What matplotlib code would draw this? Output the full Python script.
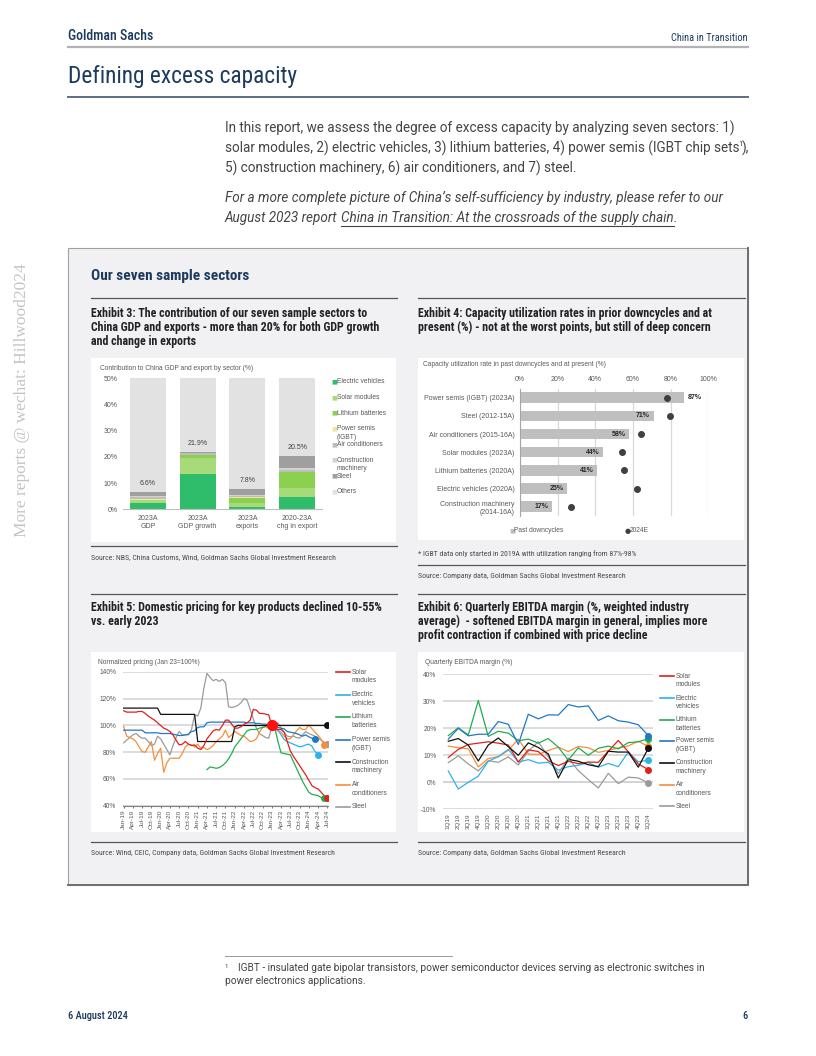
"""Rebuild of the GS 'Defining excess capacity' page: text blocks plus four exhibits."""
import matplotlib
matplotlib.use("Agg")
import matplotlib.pyplot as plt
from matplotlib import font_manager as fm
from matplotlib.lines import Line2D
from matplotlib.patches import Rectangle

W, H = 816, 1056

# ---------------- data ----------------
# Exhibit 3: contribution (%) by sector, stacked
EX3_CATS = ["2023A\nGDP", "2023A\nGDP growth", "2023A\nexports", "2020-23A\nchg in export"]
EX3_SECTORS = ["Electric vehicles", "Solar modules", "Lithium batteries", "Power semis\n(IGBT)",
               "Air conditioners", "Construction\nmachinery", "Steel", "Others"]
ex3_ev = [2.5, 13.6, 1.0, 4.8]
ex3_solar = [0.9, 6.1, 1.5, 3.4]
ex3_lithium = [0.3, 1.1, 2.0, 5.9]
ex3_semis = [0.1, 0.1, 0.1, 0.2]
ex3_ac = [0.8, 0.4, 0.5, 0.7]
ex3_cm = [0.4, 0.2, 0.5, 0.7]
ex3_steel = [1.6, 0.4, 2.2, 4.8]
ex3_others = [93.4, 78.1, 92.2, 79.5]
ex3_total_labels = ["6.6%", "21.9%", "7.8%", "20.5%"]

# Exhibit 4: capacity utilisation
EX4_CATS = ["Power semis (IGBT) (2023A)", "Steel (2012-15A)", "Air conditioners (2015-16A)",
            "Solar modules (2023A)", "Lithium batteries (2020A)", "Electric vehicles (2020A)",
            "Construction machinery\n(2014-16A)"]
ex4_past = [87, 71, 58, 44, 41, 25, 17]
ex4_2024e = [78, 79.5, 64, 54, 55, 62, 27]

# Exhibit 5: normalized pricing, monthly Jan-19 .. Jul-24 (index 0 = Jan-19)
EX5_TICKS = ["Jan-19", "Apr-19", "Jul-19", "Oct-19", "Jan-20", "Apr-20", "Jul-20", "Oct-20",
             "Jan-21", "Apr-21", "Jul-21", "Oct-21", "Jan-22", "Apr-22", "Jul-22", "Oct-22",
             "Jan-23", "Apr-23", "Jul-23", "Oct-23", "Jan-24", "Apr-24", "Jul-24"]
px_solar = [111, 110, 110, 110, 110, 110.5, 110.5, 109, 107, 105.5,
            104, 102, 100, 98, 97, 95.5, 93, 89, 85.5, 86,
            88, 86, 85, 85.5, 83, 82, 85, 90, 93, 96,
            97, 96.5, 100, 104, 104, 101, 98, 98, 99, 101,
            102, 104, 112, 111.5, 109, 109, 108.5, 108, 100, 98,
            97, 97, 95, 88, 81, 77, 73.5, 70, 66.5, 63,
            59, 55, 53.5, 52.5, 50, 47.5, 46]
px_ev_start = 48
px_ev = [100, 98, 96.5, 93, 89.5, 88, 87, 86, 85, 84, 84.5, 85.5, 86, 84.5, 80.5, 78]
px_lith_start = 27
px_lith = [67, 69, 68.5, 68, 68.5, 70, 72, 75, 79, 84,
           87, 90, 93, 96, 97, 97, 97, 98, 98.5, 99.5,
           100, 100, 98, 88, 79.5, 79, 78.5, 78, 73, 68,
           63, 58, 54, 50, 48.5, 48, 47.5, 46, 45.5]
px_semis = [96.5, 96.5, 96.5, 96.5, 96.5, 96.5, 96.5, 94.5, 94.5, 94.5,
            94.5, 94.5, 94, 94, 94, 94, 93.5, 93, 92.5, 92.5,
            93, 93.5, 95.5, 96, 98.5, 99, 99, 102, 102.5, 102.5,
            102.5, 102.5, 102.5, 102.5, 102.5, 102.5, 102.5, 102.5, 102.5, 102.5,
            102, 102, 102, 101.5, 101.5, 101, 101, 100.5, 100, 99,
            98.5, 98, 97.5, 95.5, 95, 94.5, 94, 93, 92, 93,
            91.5, 90.5, 90]
px_cm = [113, 113, 113, 113, 113, 113, 113, 113, 113, 113, 113, 113,
         108.3, 108.3, 108.3, 108.3, 108.3, 108.3, 108.3, 108.3, 108.3, 108.3, 108.3, 108.3,
         88, 88, 88, 88, 88, 88, 88, 88, 88, 88, 88, 88,
         99, 100, 100, 100, 100, 100, 100, 100, 100, 100,
         100, 100, 100, 100, 100, 100, 100, 100, 100, 100,
         100, 100, 100, 100, 100, 100, 100, 100, 100, 100, 100]
px_ac = [99.5, 92, 91, 90, 88, 84, 80.5, 80, 84, 88,
         74, 79, 83, 65, 72, 75.5, 75.5, 75.5, 75.5, 79,
         84, 86, 85.5, 84, 86, 83, 83.5, 82, 83, 85,
         88, 90, 92, 96.5, 91, 93, 95.5, 94, 92.5, 92,
         90, 88, 88.5, 90, 95, 98.5, 99, 98, 98, 97,
         96, 95, 92, 90, 90, 93, 96, 98.5, 97, 97,
         100.5, 97.5, 95, 92.5, 89.5, 85.5]
px_steel = [87, 89, 91, 93, 94, 92, 90.5, 90.5, 88, 85,
            86, 92, 90, 86, 82, 78, 85, 91, 95.5, 93,
            93, 93, 97, 108, 107, 113, 128, 139, 136, 133.5,
            134.5, 133, 134.5, 132, 114, 113.5, 114, 115, 117, 120,
            119, 112, 105, 98, 94, 92.5, 91, 90.5, 99, 100,
            102, 98, 95, 92, 91.5, 92, 91, 90.5, 93, 95.5,
            94, 93, 92, 90.5, 89, 87.5, 86]

# Exhibit 6: quarterly EBITDA margin (%), 1Q19 .. 1Q24
EX6_QTRS = ["1Q19", "2Q19", "3Q19", "4Q19", "1Q20", "2Q20", "3Q20", "4Q20", "1Q21", "2Q21", "3Q21",
            "4Q21", "1Q22", "2Q22", "3Q22", "4Q22", "1Q23", "2Q23", "3Q23", "4Q23", "1Q24"]
eb_solar = [9.2, 12.2, 14, 14.5, 15, 14.5, 13.8, 7.5, 12, 11.4, 8, 6.2, 7.8, 6.9, 7.5, 7.4, 11.5, 15.5, 11.3, 6.8, 4.7]
eb_ev = [4.2, -2.5, 0, 2.3, 7.8, 9.5, 12.2, 7.5, 8.4, 7.1, 7.4, 4.5, 5.8, 6.3, 7.3, 5.6, 7, 5.8, 11.2, 7.6, 8.2]
eb_lith = [17.3, 20.2, 17.5, 30.3, 17, 18.9, 18.2, 15.4, 16, 14.5, 16.2, 13, 8.2, 12.8, 10, 12.6, 13.4, 12.4, 14.7, 15, 16.2]
eb_semis = [16, 20, 17.2, 17.8, 17.8, 22.5, 21.5, 14, 25.2, 23.5, 25, 24.9, 28.8, 27.9, 28.3, 22.9, 24.6, 22.8, 22.3, 21.3, 17.3]
eb_cm = [15.2, 16.2, 13.8, 7.9, 13.8, 16.4, 13.2, 10, 14.6, 12.9, 10.5, 1.6, 8.5, 7.8, 6.5, 5.8, 11.5, 11.2, 11.2, 5.6, 12.6]
eb_ac = [13.4, 12.8, 12.4, 5.7, 8.8, 9.5, 11.8, 16, 10.5, 10.3, 11.8, 13, 11.4, 13.3, 12.8, 11.1, 11.8, 12.7, 13.5, 15.2, 13.3]
eb_steel = [7.3, 9.8, 6.8, 4.2, 8, 7.4, 9.4, 6.4, 11.5, 15, 9.5, 3.2, 9, 4.3, 1, -2.1, 3.3, -0.5, 1.9, 1.6, -0.2]

# ---------------- styling ----------------
NAVY = "#1c3b5e"
TICK = "#595959"
GRID = "#d9d9d9"
C_SOLAR, C_EV, C_LITH, C_SEMIS = "#e0201b", "#2cb2ec", "#1fae4f", "#1f78c8"
C_CM, C_AC, C_STEEL = "#111111", "#f68e3c", "#9b9b9b"

_names = {f.name for f in fm.fontManager.ttflist}


def _pick(cands, default):
    for c in cands:
        if c in _names:
            return c
    return default


COND = _pick(["Roboto Condensed", "Liberation Sans Narrow", "Open Sans Condensed"], "DejaVu Sans")
BODY = _pick(["Roboto", "Liberation Sans"], "DejaVu Sans")
CHART = _pick(["Liberation Sans", "Arimo"], "DejaVu Sans")
CSTRETCH = "condensed" if COND == "DejaVu Sans" else "normal"

fig = plt.figure(figsize=(W / 100, H / 100), dpi=100, facecolor="white")
rend = fig.canvas.get_renderer()


def fx(x):
    return x / W


def fy(y):
    return 1 - y / H


def txt(x, y, s, **kw):
    kw.setdefault("va", "center")
    return fig.text(fx(x), fy(y), s, **kw)


def ctxt(x, y, s, size, **kw):
    return txt(x, y, s, fontsize=size, family=COND, fontstretch=CSTRETCH, **kw)


def right_of(t):
    return t.get_window_extent(rend).x1


def hline(x0, x1, y, color="#555555", lw=0.9):
    fig.add_artist(Line2D([fx(x0), fx(x1)], [fy(y), fy(y)], transform=fig.transFigure,
                          color=color, lw=lw))


def rect(x0, y0, x1, y1, z=-4, **kw):
    fig.add_artist(Rectangle((fx(x0), fy(y1)), (x1 - x0) / W, (y1 - y0) / H,
                             transform=fig.transFigure, zorder=z, **kw))


def axes_px(x0, y0, x1, y1):
    ax = fig.add_axes((fx(x0), fy(y1), (x1 - x0) / W, (y1 - y0) / H))
    ax.set_facecolor("none")
    return ax


def line_legend(x_line, x_text, ys, labels, colors):
    for y, lab, col in zip(ys, labels, colors):
        fig.add_artist(Line2D([fx(x_line), fx(x_line + 14)], [fy(y), fy(y)],
                              transform=fig.transFigure, color=col, lw=1.2))
        txt(x_text, y - 3.5, lab, va="top", fontsize=4.8, color=TICK, family=CHART,
            linespacing=1.35)


# ---------------- page header / body ----------------
ctxt(68, 36, "Goldman Sachs", 10, color=NAVY, fontweight="medium")
ctxt(748, 38, "China in Transition", 7.5, color=NAVY, ha="right")
hline(68, 748, 47, color="#b3b3b3", lw=1.6)
ctxt(68, 76, "Defining excess capacity", 16.8, color=NAVY)
hline(68, 748, 97, color="#5b6f86", lw=1.4)

body_kw = dict(fontsize=9.75, color="#444444", family=BODY)
txt(225, 128, "In this report, we assess the degree of excess capacity by analyzing seven sectors: 1)", **body_kw)
t_l2 = txt(225, 148, "solar modules, 2) electric vehicles, 3) lithium batteries, 4) power semis (IGBT chip sets",
           **body_kw)
t_sup = txt(right_of(t_l2) - 1.5, 144, "1", fontsize=5.5, color="#444444", family=BODY)
txt(right_of(t_sup), 148, "),", **body_kw)
txt(225, 168, "5) construction machinery, 6) air conditioners, and 7) steel.", **body_kw)
txt(225, 198, "For a more complete picture of China\u2019s self-sufficiency by industry, please refer to our",
    style="italic", **body_kw)
t_a = txt(225, 218, "August 2023 report ", style="italic", **body_kw)
x_link = right_of(t_a)
t_b = txt(x_link, 218, "China in Transition: At the crossroads of the supply chain", style="italic", **body_kw)
x_end = right_of(t_b)
txt(x_end, 218, ".", style="italic", **body_kw)
hline(x_link, x_end, 226, color="#444444", lw=0.8)

# watermark
fig.text(fx(22), fy(400), "More reports @ wechat: Hillwood2024", rotation=90, ha="center", va="center",
         fontsize=12.5, color="#c4c4c4", family=_pick(["Liberation Serif", "DejaVu Serif"], "serif"))

# ---------------- grey exhibit box ----------------
rect(68, 248, 748, 885, z=-6, facecolor="#f1f1f3", edgecolor="#a0a0a0", lw=0.8)
fig.add_artist(Line2D([fx(748), fx(748), fx(68)], [fy(248), fy(885), fy(885)],
                      transform=fig.transFigure, color="#6e6e6e", lw=1.4))
ctxt(91, 276, "Our seven sample sectors", 11, color=NAVY, fontweight="bold")
for a, b in [(91, 397), (418, 745)]:
    hline(a, b, 298)
    hline(a, b, 594)
    hline(a, b, 842)
hline(91, 397, 546)
hline(418, 745, 565)

ex_kw = dict(color="#222222", fontweight="bold", va="center")
for i, s in enumerate(["Exhibit 3: The contribution of our seven sample sectors to",
                       "China GDP and exports - more than 20% for both GDP growth",
                       "and change in exports"]):
    ctxt(91, 313 + 14.5 * i, s, 8.6, **ex_kw)
for i, s in enumerate(["Exhibit 4: Capacity utilization rates in prior downcycles and at",
                       "present (%) - not at the worst points, but still of deep concern"]):
    ctxt(418, 313 + 14.5 * i, s, 8.6, **ex_kw)
for i, s in enumerate(["Exhibit 5: Domestic pricing for key products declined 10-55%",
                       "vs. early 2023"]):
    ctxt(91, 607 + 14.5 * i, s, 8.6, **ex_kw)
for i, s in enumerate(["Exhibit 6: Quarterly EBITDA margin (%, weighted industry",
                       "average)  - softened EBITDA margin in general, implies more",
                       "profit contraction if combined with price decline"]):
    ctxt(418, 607 + 14.5 * i, s, 8.6, **ex_kw)

src_kw = dict(color="#4a4a4a")
ctxt(91, 557, "Source: NBS, China Customs, Wind, Goldman Sachs Global Investment Research", 5.6, **src_kw)
ctxt(418, 554, "* IGBT data only started in 2019A with utilization ranging from 87%-98%", 5.6, **src_kw)
ctxt(418, 576, "Source: Company data, Goldman Sachs Global Investment Research", 5.6, **src_kw)
ctxt(91, 853, "Source: Wind, CEIC, Company data, Goldman Sachs Global Investment Research", 5.6, **src_kw)
ctxt(418, 853, "Source: Company data, Goldman Sachs Global Investment Research", 5.6, **src_kw)

# white chart panels
for x0, y0, x1, y1 in [(91, 358, 396, 542), (418, 358, 744, 540), (91, 652, 396, 832), (418, 652, 744, 832)]:
    rect(x0, y0, x1, y1, z=-3, facecolor="white", edgecolor="none")

ck = dict(family=CHART)

# ---------------- Exhibit 3 ----------------
ax3 = axes_px(123, 378.3, 322, 509.3)
stack = [ex3_ev, ex3_solar, ex3_lithium, ex3_semis, ex3_ac, ex3_cm, ex3_steel, ex3_others]
cols3 = ["#2fbd6c", "#a7db7a", "#8bd14f", "#f1e4a0", "#bdbdbd", "#d3d3d3", "#9f9f9f", "#e2e2e2"]
xpos = list(range(len(EX3_CATS)))
bottom = [0.0] * len(EX3_CATS)
for vals, col in zip(stack, cols3):
    ax3.bar(xpos, vals, bottom=bottom, width=0.72, color=col, edgecolor="none")
    bottom = [b + v for b, v in zip(bottom, vals)]
tops = [sum(s[i] for s in stack[:-1]) for i in xpos]
for i, lab in enumerate(ex3_total_labels):
    ax3.annotate(lab, (i, tops[i]), xytext=(0, 3.5), textcoords="offset points", ha="center",
                 va="bottom", fontsize=5, color="#404040", **ck)
ax3.set_xlim(-0.5, 3.5)
ax3.set_ylim(0, 50)
ax3.set_yticks(range(0, 51, 10))
ax3.set_yticklabels([f"{v}%" for v in range(0, 51, 10)])
ax3.set_xticks(xpos)
ax3.set_xticklabels(EX3_CATS, linespacing=1.3)
ax3.tick_params(length=0, labelsize=5, labelcolor=TICK, pad=4)
for lab in ax3.get_xticklabels() + ax3.get_yticklabels():
    lab.set_family(CHART)
for s in ["top", "right", "left"]:
    ax3.spines[s].set_visible(False)
ax3.spines["bottom"].set_color("#bfbfbf")
txt(100, 369, "Contribution to China GDP and export by sector (%)", fontsize=4.8, color=TICK, **ck)
leg_y = [381.7, 397.7, 413.3, 428.5, 444.7, 460, 476, 491.7]
for y, lab, col in zip(leg_y, EX3_SECTORS, cols3):
    txt(331, y, "\u25a0", fontsize=4.5, color=col, ha="left", family="DejaVu Sans")
    txt(337, y - 3.3, lab, fontsize=4.8, color=TICK, va="top", linespacing=1.35, **ck)

# ---------------- Exhibit 4 ----------------
ax4 = axes_px(520, 388.6, 708.3, 515.8)
ypos = list(range(len(EX4_CATS)))
ax4.barh(ypos, ex4_past, height=0.58, color="#bfbfbf", zorder=2)
ax4.plot(ex4_2024e, ypos, "o", color="#404040", ms=4, zorder=3)
for y, v in zip(ypos, ex4_past):
    if v > 80:
        ax4.text(v + 2, y, f"{v}%", ha="left", va="center", fontsize=5, fontweight="bold",
                 color="#262626", **ck)
    else:
        ax4.text(v - 2, y, f"{v}%", ha="right", va="center", fontsize=5, fontweight="bold",
                 color="#262626", **ck)
ax4.set_xlim(0, 100)
ax4.set_ylim(len(EX4_CATS) - 0.5, -0.5)
ax4.set_xticks(range(0, 101, 20))
ax4.set_xticklabels([f"{v}%" for v in range(0, 101, 20)])
ax4.xaxis.tick_top()
ax4.set_yticks(ypos)
ax4.set_yticklabels(EX4_CATS, linespacing=1.3)
ax4.tick_params(length=0, labelsize=5, labelcolor=TICK, pad=4)
for lab in ax4.get_xticklabels() + ax4.get_yticklabels():
    lab.set_family(CHART)
ax4.xaxis.grid(True, color=GRID, lw=0.9, zorder=0)
ax4.set_axisbelow(True)
for s in ["top", "right", "bottom"]:
    ax4.spines[s].set_visible(False)
ax4.spines["left"].set_color("#a6a6a6")
txt(423, 364.5, "Capacity utilization rate in past downcycles and at present (%)", fontsize=4.8,
    color=TICK, **ck)
txt(509, 531, "\u25a0", fontsize=4.5, color="#bfbfbf", family="DejaVu Sans")
txt(514, 531, "Past downcycles", fontsize=4.8, color=TICK, **ck)
txt(625, 531, "\u25cf", fontsize=5, color="#404040", family="DejaVu Sans")
txt(630, 531, "2024E", fontsize=4.8, color=TICK, **ck)

# ---------------- Exhibit 5 ----------------
ax5 = axes_px(123.3, 672, 328.3, 805.7)
series5 = [
    (list(range(len(px_steel))), px_steel, C_STEEL),
    (list(range(len(px_ac))), px_ac, C_AC),
    (list(range(len(px_semis))), px_semis, C_SEMIS),
    (list(range(px_ev_start, px_ev_start + len(px_ev))), px_ev, C_EV),
    (list(range(px_lith_start, px_lith_start + len(px_lith))), px_lith, C_LITH),
    (list(range(len(px_cm))), px_cm, C_CM),
    (list(range(len(px_solar))), px_solar, C_SOLAR),
]
for xs, ys, col in series5:
    ax5.plot(xs, ys, color=col, lw=0.9, zorder=3)
    ax5.plot(xs[-1], ys[-1], "o", color=col, ms=4, zorder=4)
ax5.plot(48, px_solar[48], "o", color="#ff1010", ms=7, zorder=5)
ax5.set_xlim(-0.1, 66.3)
ax5.set_ylim(40, 140)
ax5.set_yticks(range(40, 141, 20))
ax5.set_yticklabels([f"{v}%" for v in range(40, 141, 20)])
ax5.set_xticks(range(0, 67, 3))
ax5.set_xticklabels(EX5_TICKS, rotation=90)
ax5.yaxis.grid(True, color=GRID, lw=1.3, zorder=0)
ax5.tick_params(axis="y", length=0, labelsize=4.8, labelcolor=TICK, pad=5)
ax5.tick_params(axis="x", length=1.5, color="#808080", labelsize=4.6, labelcolor=TICK, pad=1.5)
for lab in ax5.get_xticklabels() + ax5.get_yticklabels():
    lab.set_family(CHART)
for s in ["top", "right", "left"]:
    ax5.spines[s].set_visible(False)
ax5.spines["bottom"].set_color("#808080")
txt(98, 662, "Normalized pricing (Jan 23=100%)", fontsize=4.8, color=TICK, **ck)
line_legend(336, 352, [672, 694.5, 717, 739.5, 762, 784.5, 807],
            ["Solar\nmodules", "Electric\nvehicles", "Lithium\nbatteries", "Power semis\n(IGBT)",
             "Construction\nmachinery", "Air\nconditioners", "Steel"],
            [C_SOLAR, C_EV, C_LITH, C_SEMIS, C_CM, C_AC, C_STEEL])

# ---------------- Exhibit 6 ----------------
ax6 = axes_px(443.3, 674.3, 653.3, 809.3)
q = list(range(len(EX6_QTRS)))
series6 = [(eb_steel, C_STEEL), (eb_ac, C_AC), (eb_ev, C_EV), (eb_solar, C_SOLAR),
           (eb_cm, C_CM), (eb_lith, C_LITH), (eb_semis, C_SEMIS)]
for ys, col in series6:
    ax6.plot(q, ys, color=col, lw=0.9, zorder=3)
    ax6.plot(q[-1], ys[-1], "o", color=col, ms=4, zorder=4)
ax6.set_xlim(-0.5, 20.5)
ax6.set_ylim(-10, 40)
ax6.set_yticks(range(-10, 41, 10))
ax6.set_yticklabels([f"{v}%" for v in range(-10, 41, 10)])
ax6.set_xticks(q)
ax6.set_xticklabels(EX6_QTRS, rotation=90)
ax6.yaxis.grid(True, color=GRID, lw=1.3, zorder=0)
ax6.axhline(0, color="#8c8c8c", lw=1.1, zorder=1)
ax6.tick_params(axis="y", length=0, labelsize=4.8, labelcolor=TICK, pad=5)
ax6.tick_params(axis="x", length=0, labelsize=4.6, labelcolor=TICK, pad=3)
for lab in ax6.get_xticklabels() + ax6.get_yticklabels():
    lab.set_family(CHART)
for s in ["top", "right", "left", "bottom"]:
    ax6.spines[s].set_visible(False)
txt(425, 663, "Quarterly EBITDA margin (%)", fontsize=4.8, color=TICK, **ck)
line_legend(660, 676, [676, 698, 719.5, 741, 763, 784.5, 806],
            ["Solar\nmodules", "Electric\nvehicles", "Lithium\nbatteries", "Power semis\n(IGBT)",
             "Construction\nmachinery", "Air\nconditioners", "Steel"],
            [C_SOLAR, C_EV, C_LITH, C_SEMIS, C_CM, C_AC, C_STEEL])

# ---------------- footnote / footer ----------------
hline(225, 452, 956, color="#9a9a9a", lw=0.7)
fn_kw = dict(fontsize=7.3, color="#444444", family=BODY)
txt(225, 966, "1", fontsize=4.5, color="#444444", family=BODY)
txt(238, 968, "IGBT - insulated gate bipolar transistors, power semiconductor devices serving as electronic switches in",
    **fn_kw)
txt(225, 981, "power electronics applications.", **fn_kw)
ctxt(68, 1016, "6 August 2024", 7.5, color=NAVY, fontweight="medium")
ctxt(748, 1016, "6", 7.5, color=NAVY, ha="right", fontweight="medium")

fig.savefig("out.png", dpi=100, facecolor="white")
